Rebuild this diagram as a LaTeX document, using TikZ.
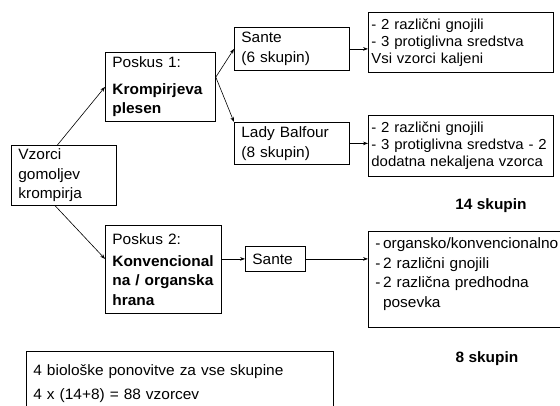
\documentclass[tikz,border=0pt]{standalone}
\usepackage{fontspec}
\setmainfont[FakeStretch=1.03]{Liberation Sans}
\usetikzlibrary{arrows.meta}
\begin{document}
\begin{tikzpicture}[x=1pt,y=-1pt,
    box/.style={draw,line width=0.8pt,anchor=north west,align=left,
      inner xsep=7pt,inner ysep=3pt,font=\fontsize{15}{19.5}\selectfont},
    opis/.style={box,inner xsep=3pt,font=\fontsize{14.5}{17}\selectfont},
    skupine/.style={font=\fontsize{15}{18}\selectfont\bfseries},
    arr/.style={-{Stealth[length=5pt,width=3.6pt]},line width=0.6pt}]
  \useasboundingbox (0,0) rectangle (560,405);
  \node[box,minimum width=105,minimum height=60,text width=91] (vzorci) at (11,145)
    {Vzorci\\gomoljev\\krompirja};
  \node[box,minimum width=110,minimum height=69,text width=96] (poskus1) at (105,52)
    {Poskus 1:\\[7pt]\textbf{Krompirjeva}\\\textbf{plesen}};
  \node[box,minimum width=115,minimum height=88,text width=102] (poskus2) at (105,225)
    {Poskus 2:\\[2pt]\textbf{Konvencional}\\\textbf{na / organska}\\\textbf{hrana}};
  \node[box,minimum width=115,minimum height=43,text width=101] (sante1) at (234,27)
    {Sante\\(6 skupin)};
  \node[box,minimum width=115,minimum height=42,text width=101] (lady) at (234,122)
    {Lady Balfour\\(8 skupin)};
  \node[box,minimum width=60,minimum height=25,text width=46] (sante2) at (245,246)
    {Sante};
  \node[opis,minimum width=185,minimum height=60,text width=179] (opis1) at (368,12)
    {- 2 različni gnojili\\- 3 protiglivna sredstva\\Vsi vzorci kaljeni};
  \node[opis,minimum width=185,minimum height=61,text width=179] (opis2) at (368,115)
    {- 2 različni gnojili\\\mbox{- 3 protiglivna sredstva - 2}\\dodatna nekaljena vzorca};
  \node[box,minimum width=200,minimum height=96,text width=186] (opis3) at (368,231)
    {-\,organsko/konvencionalno\\-\,2 različni gnojili\\-\,2 različna predhodna\\\hphantom{-\,}posevka\\[-6pt]\mbox{}};
  \node[box,minimum width=307,minimum height=64,text width=293] (ponovitve) at (26,351)
    {4 biološke ponovitve za vse skupine\\[5pt]4 x (14+8) = 88 vzorcev};
  \node[skupine] (skupin14) at (491,206) {14 skupin};
  \node[skupine] (skupin8) at (487,359) {8 skupin};
  \begin{scope}[arr]
    \draw (vzorci.102) to (poskus1.west);
    \draw (vzorci.254) to (sante2.west -| poskus2.west);
    \draw (poskus1.10) to (sante1.west);
    \draw (poskus1.10) to (lady.north west);
    \draw (sante1.east) to (sante1.east -| opis1.west);
    \draw (lady.east) to (lady.east -| opis2.west);
    \draw (sante2.west -| poskus2.east) to (sante2.west);
    \draw (sante2.east) to (sante2.east -| opis3.west);
  \end{scope}
\end{tikzpicture}
\end{document}
